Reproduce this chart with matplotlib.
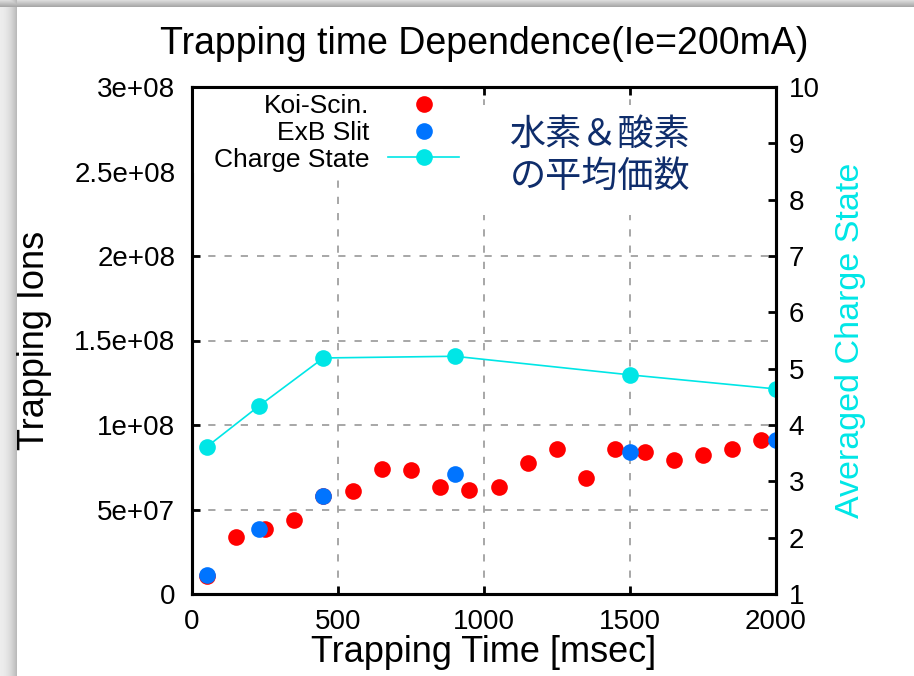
import numpy as np
import matplotlib
matplotlib.use("Agg")
import matplotlib.pyplot as plt
from matplotlib.patches import Rectangle

plt.rcParams['font.family'] = ['Liberation Sans', 'Noto Sans CJK JP', 'DejaVu Sans']

# Koi-Scin. measurements
koi_time = [50, 150, 250, 350, 450, 550, 650, 750, 850, 950,
            1050, 1150, 1250, 1350, 1450, 1550, 1650, 1750, 1850, 1950]
koi_ions = [1.06e7, 3.39e7, 3.86e7, 4.37e7, 5.79e7, 6.10e7, 7.40e7, 7.36e7, 6.34e7, 6.18e7,
            6.34e7, 7.76e7, 8.58e7, 6.85e7, 8.58e7, 8.43e7, 7.95e7, 8.25e7, 8.58e7, 9.09e7]

# ExB Slit measurements
exb_time = [50, 230, 450, 900, 1500, 2000]
exb_ions = [1.10e7, 3.86e7, 5.79e7, 7.10e7, 8.43e7, 9.09e7]

# averaged charge state
cs_time = [50, 230, 450, 900, 1500, 2000]
cs_value = [3.61, 4.34, 5.19, 5.22, 4.89, 4.64]

y1_ticks = [0, 5e7, 1e8, 1.5e8, 2e8, 2.5e8, 3e8]
y1_labels = ["0", "5e+07", "1e+08", "1.5e+08", "2e+08", "2.5e+08", "3e+08"]
x_ticks = [0, 500, 1000, 1500, 2000]
y2_ticks = list(range(1, 11))

W, H = 914, 676
fig = plt.figure(figsize=(W / 100, H / 100), dpi=100)

# picture frame shadow (left and top bands)
bg = np.ones((H, W, 3))
for i in range(17):
    bg[:, i, :] = 0.93 - 0.20 * (i / 16) ** 2
for j in range(7):
    shade = 0.86 - 0.20 * (j / 6)
    bg[j, :, :] = np.minimum(bg[j, :, :], shade)
bax = fig.add_axes([0, 0, 1, 1], zorder=-5)
bax.imshow(bg, aspect='auto', interpolation='nearest')
bax.axis('off')

ax = fig.add_axes([192 / W, 1 - 594 / H, 584 / W, 507 / H])
ax2 = ax.twinx()

ax.plot(koi_time, koi_ions, 'o', color='#ff0000', ms=12, mec='none', label='Koi-Scin.', zorder=3)
ax.plot(exb_time, exb_ions, 'o', color='#0074ff', ms=12, mec='none', label='ExB Slit', zorder=4)
ax2.plot(cs_time, cs_value, '-o', color='#00e6e6', ms=12, mec='none', lw=1.2, label='Charge State')

ax.set_xlim(0, 2000)
ax.set_ylim(0, 3e8)
ax2.set_ylim(1, 10)
ax.set_xticks(x_ticks)
ax.set_yticks(y1_ticks)
ax.set_yticklabels(y1_labels)
ax2.set_yticks(y2_ticks)

ax.grid(True, color='#a0a0a0', linestyle=(0, (4, 5)), lw=1.3)
ax.set_axisbelow(True)

ax.tick_params(axis='x', direction='in', top=True, length=6, width=2, labelsize=20, pad=11)
ax.tick_params(axis='y', direction='in', length=6, width=2, labelsize=20, pad=12)
ax2.tick_params(axis='y', direction='in', length=6, width=2, labelsize=20, pad=9)
for a in (ax, ax2):
    for s in a.spines.values():
        s.set_linewidth(2.2)

ax.set_xlabel('Trapping Time [msec]', fontsize=26, labelpad=0)
ax.set_ylabel('Trapping Ions', fontsize=26, labelpad=16)
ax2.set_ylabel('Averaged Charge State', fontsize=24.5, color='#00e6e6', labelpad=11)
ax.set_title('Trapping time Dependence(Ie=200mA)', fontsize=27, pad=24)

# white boxes hiding the grid behind the key and the note
ax2.add_patch(Rectangle((0.0, 0.83), 0.43, 0.17, transform=ax2.transAxes,
                        facecolor='white', edgecolor='none', zorder=1))
ax2.add_patch(Rectangle((0.43, 0.748), 0.56, 0.217, transform=ax2.transAxes,
                        facecolor='white', edgecolor='none', zorder=1))
ax2.text(0.699, 0.864, '水素＆酸素\nの平均価数', transform=ax2.transAxes, ha='center', va='center',
         fontsize=26, color='#0f2d6b', linespacing=1.2,
         family=['Noto Sans CJK JP', 'DejaVu Sans'], zorder=2)

h1, l1 = ax.get_legend_handles_labels()
h2, l2 = ax2.get_legend_handles_labels()
leg = ax2.legend(h1 + h2, l1 + l2, loc='upper left', bbox_to_anchor=(0.006, 1.022),
                 markerfirst=False, frameon=False, fontsize=19, labelspacing=0.1,
                 handlelength=2.7, handletextpad=0.7, borderpad=0.2)
leg.set_zorder(3)

fig.savefig('out.png', dpi=100)
